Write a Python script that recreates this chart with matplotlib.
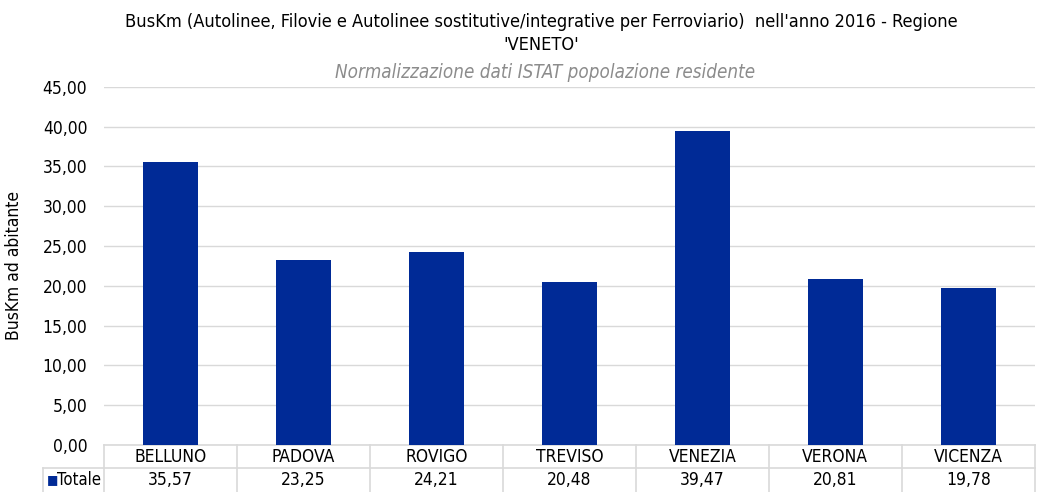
import matplotlib
matplotlib.use("Agg")
import matplotlib.pyplot as plt
from matplotlib import font_manager
import matplotlib.transforms as mtransforms

categories = ["BELLUNO", "PADOVA", "ROVIGO", "TREVISO", "VENEZIA", "VERONA", "VICENZA"]
totale = [35.57, 23.25, 24.21, 20.48, 39.47, 20.81, 19.78]
yticks = [0, 5, 10, 15, 20, 25, 30, 35, 40, 45]

# narrow look: DejaVu Sans Condensed if it is there
condensed = any(f.name == "DejaVu Sans" and "ondensed" in str(f.stretch)
                for f in font_manager.fontManager.ttflist)
plt.rcParams["font.family"] = ["DejaVu Sans"]
if condensed:
    plt.rcParams["font.stretch"] = "condensed"

BLUE = "#002A96"
GRID = "#D9D9D9"


def it(v):
    return f"{v:.2f}".replace(".", ",")


def fit(t, width_px):
    # shrink/grow a text until it is about width_px wide
    r = fig.canvas.get_renderer()
    for _ in range(3):
        w = t.get_window_extent(r).width
        t.set_fontsize(t.get_fontsize() * width_px / w)


fig = plt.figure(figsize=(10.4, 4.92), dpi=100)
ax = fig.add_axes([0.1, 0.0955, 0.895, 0.728])

x = range(len(categories))
ax.bar(x, totale, width=0.41, color=BLUE, zorder=3)
ax.set_xlim(-0.5, len(categories) - 0.5)
ax.set_ylim(0, 45)
ax.set_yticks(yticks)
ax.set_yticklabels([it(v) for v in yticks], fontsize=12.5)
ax.set_xticks([])
ax.tick_params(axis="y", length=0, pad=12)
ax.grid(axis="y", color=GRID, linewidth=1, zorder=0)
for s in ax.spines.values():
    s.set_visible(False)
ax.set_ylabel("BusKm ad abitante", fontsize=12.5, labelpad=14)

# data table under the axis
tr = mtransforms.blended_transform_factory(ax.transData, ax.transAxes)
row1 = -23 / 358
row2 = -47 / 358
ax.plot([-0.5, len(categories) - 0.5], [0, 0], transform=tr, color=GRID, lw=1.2, clip_on=False)
ax.plot([-0.96, len(categories) - 0.5], [row1, row1], transform=tr, color=GRID, lw=1.2, clip_on=False)
for i in range(len(categories) + 1):
    ax.plot([i - 0.5, i - 0.5], [0, row2], transform=tr, color=GRID, lw=1.2, clip_on=False)
ax.plot([-0.96, -0.96], [row1, row2], transform=tr, color=GRID, lw=1.2, clip_on=False)
for i, (c, v) in enumerate(zip(categories, totale)):
    ax.text(i, row1 / 2, c, transform=tr, ha="center", va="center", fontsize=12.5, clip_on=False)
    ax.text(i, (row1 + row2) / 2, it(v), transform=tr, ha="center", va="center", fontsize=12.5, clip_on=False)
ax.text(-0.93, (row1 + row2) / 2, "\u25a0", transform=tr, ha="left", va="center",
        fontsize=9.5, color=BLUE, clip_on=False)
ax.text(-0.855, (row1 + row2) / 2, "Totale", transform=tr, ha="left", va="center",
        fontsize=12, clip_on=False)

t1 = fig.text(0.5204, 0.955, "BusKm (Autolinee, Filovie e Autolinee sostitutive/integrative per Ferroviario)  nell'anno 2016 - Regione",
              ha="center", va="center", fontsize=14.5)
fig.text(0.5204, 0.908, "'VENETO'", ha="center", va="center", fontsize=t1.get_fontsize())
t3 = fig.text(0.524, 0.852, "Normalizzazione dati ISTAT popolazione residente", ha="center", va="center",
              fontsize=13, style="italic", color="#8C8C8C")
fig.canvas.draw()
fit(t1, 838)
fig.texts[1].set_fontsize(t1.get_fontsize())
fit(t3, 418)

fig.savefig("out.png", dpi=100)
